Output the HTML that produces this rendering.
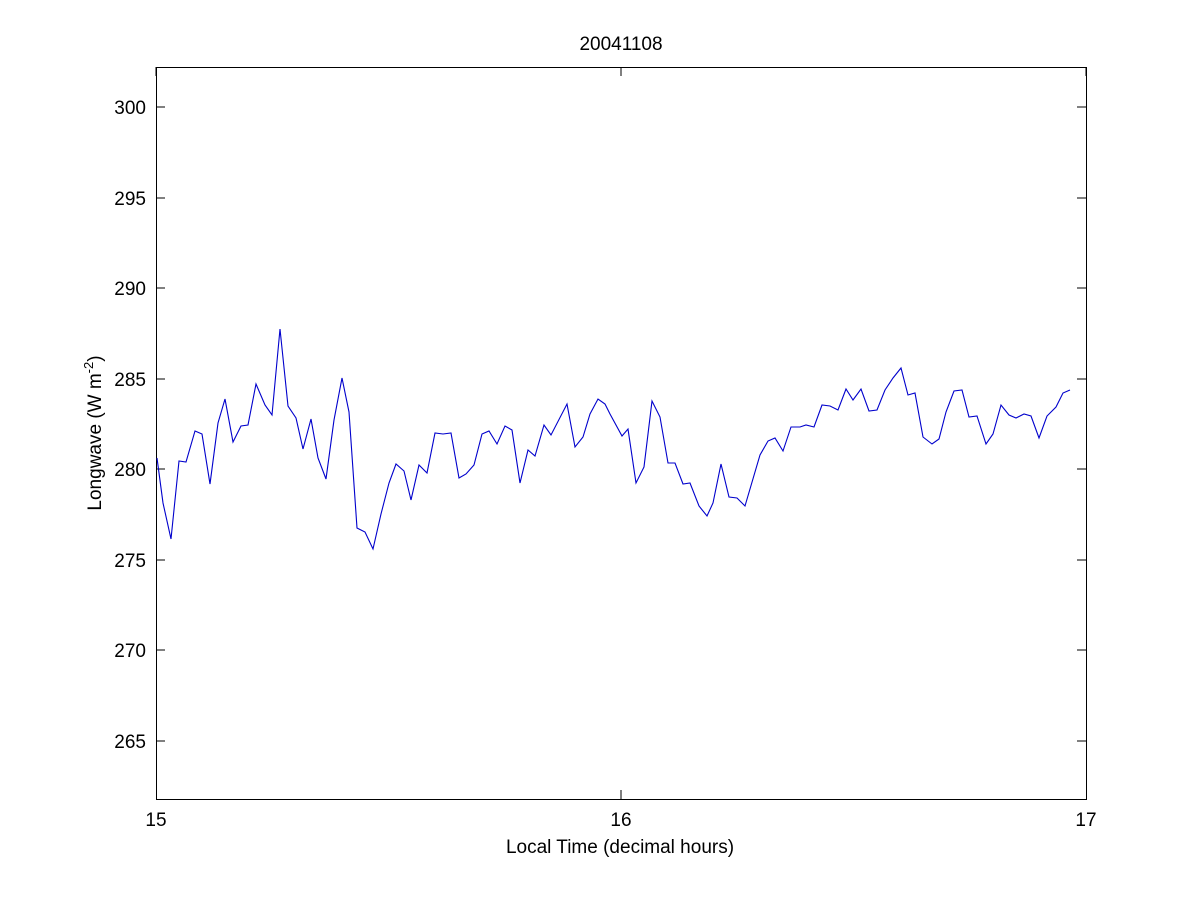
<!DOCTYPE html>
<html><head><meta charset="utf-8"><style>body{margin:0;background:#fff}svg{display:block}text{font-family:"Liberation Sans",Arial,sans-serif;font-size:19px;fill:#000}</style></head><body>
<svg width="1200" height="900" viewBox="0 0 1200 900">
<rect x="0" y="0" width="1200" height="900" fill="#fff"/>
<g stroke="#000" stroke-width="1" fill="none" shape-rendering="crispEdges">
<rect x="156.5" y="67.5" width="930" height="732"/>
<path d="M156 107h9M1086 107h-9M156 198h9M1086 198h-9M156 288h9M1086 288h-9M156 379h9M1086 379h-9M156 469h9M1086 469h-9M156 560h9M1086 560h-9M156 650h9M1086 650h-9M156 741h9M1086 741h-9"/>
<path d="M621 799v-9M621 67v9M156 67v9M1086 67v9"/>
</g>
<g text-anchor="end">
<text x="146" y="114">300</text><text x="146" y="205">295</text><text x="146" y="295">290</text><text x="146" y="386">285</text><text x="146" y="476">280</text><text x="146" y="567">275</text><text x="146" y="657">270</text><text x="146" y="748">265</text>
</g>
<g text-anchor="middle">
<text x="156" y="826">15</text><text x="621" y="826">16</text><text x="1086" y="826">17</text>
<text x="620" y="853">Local Time (decimal hours)</text>
<text x="621" y="50">20041108</text>
</g>
<text transform="translate(101,433) rotate(-90)" text-anchor="middle">Longwave (W m<tspan dy="-8" font-size="13">-2</tspan><tspan dy="8">)</tspan></text>
<polyline fill="none" stroke="#0000cc" stroke-width="1.1" points="157,458 163,503 171,539 179,461 186,462 195,431 202,434 210,484 218,423 225,399 233,442 241,426 248,425 256,384 265,405 272,415 280,329 288,406 296,418 303,449 311,419 318,458 326,479 334,420 342,378 349,412 357,528 365,532 373,549 381,514 389,483 396,464 404,471 411,500 419,465 427,473 435,433 443,434 451,433 459,478 466,474 474,465 482,434 489,431 497,444 505,426 512,430 520,483 528,450 535,456 544,425 551,435 567,404 575,447 583,437 590,414 598,399 605,404 610,414 622,436 628,429 636,483 644,467 652,401 660,417 668,463 675,463 683,484 690,483 699,506 707,516 713,503 721,464 729,497 737,498 745,506 760,455 768,441 775,438 783,451 791,427 800,427 806,425 814,427 822,405 830,406 838,410 846,389 853,400 861,389 869,411 877,410 885,390 893,378 901,368 908,395 915,393 923,437 932,444 939,439 946,412 954,391 962,390 969,417 977,416 986,444 993,434 1001,405 1009,415 1016,418 1024,414 1031,416 1039,438 1047,416 1056,407 1063,393 1070,390"/>
</svg>
</body></html>
